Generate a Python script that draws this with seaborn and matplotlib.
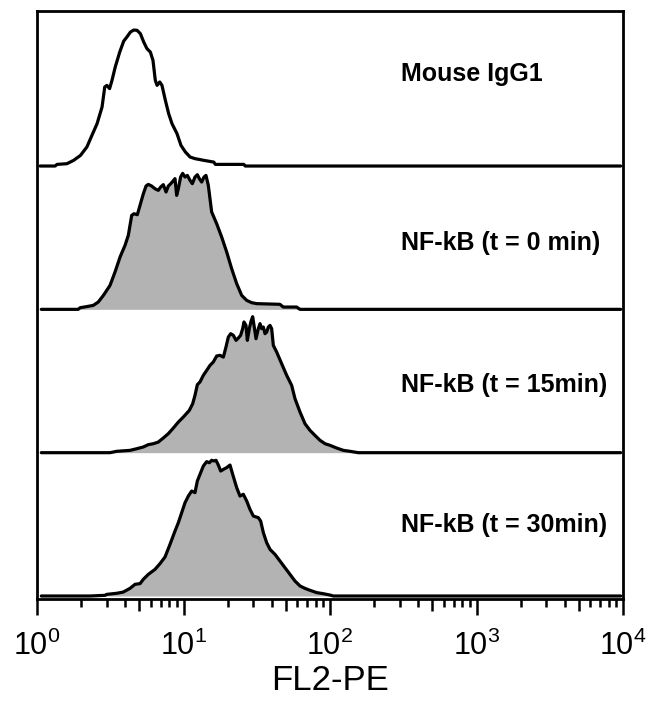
import numpy as np
import matplotlib
matplotlib.use("Agg")
import matplotlib.pyplot as plt
import seaborn as sns
from matplotlib.ticker import LogLocator, NullFormatter, FixedLocator, NullLocator

# ---------------- data ----------------
labels = ["Mouse IgG1", "NF-kB (t = 0 min)", "NF-kB (t = 15min)", "NF-kB (t = 30min)"]
filled = [False, True, True, True]
xlabel = "FL2-PE"
tick_values = [1, 10, 100, 1000, 10000]
mid_tick_values = [5, 50, 500, 5000]

# Mouse IgG1 (counts in % of peak)
x1 = [1.05, 1.33, 1.37, 1.60, 1.78, 1.98, 2.19, 2.37, 2.57, 2.78,
      2.90, 3.00, 3.13, 3.25, 3.42, 3.67, 3.91, 4.11, 4.34, 4.57,
      4.82, 5.08, 5.35, 5.63, 5.94, 6.19, 6.42, 6.60, 6.88, 7.13,
      7.52, 7.92, 8.35, 9.03, 9.61, 10.3, 11.1, 12.0, 13.0, 13.7,
      16.1, 16.5, 25.8, 26.4, 9640]
y1 = [0, 0, 1.2, 1.7, 4.2, 7.8, 14.0, 22.5, 31.1, 43.4,
      58.1, 59.3, 56.9, 63.0, 72.8, 83.8, 91.9, 94.9, 98.5, 100.0,
      99.8, 97.3, 91.2, 86.3, 83.8, 77.7, 63.0, 59.3, 61.8, 59.3,
      48.3, 38.5, 31.1, 23.8, 15.2, 10.3, 6.6, 5.4, 4.7, 4.2,
      2.9, 1.2, 1.2, 0, 0]

# NF-kB t = 0 min
x2 = [1.07, 1.91, 1.97, 2.18, 2.42, 2.62, 2.84, 3.15, 3.41, 3.69,
      3.99, 4.20, 4.43, 4.59, 4.84, 5.05, 5.32, 5.55, 5.75, 6.06,
      6.39, 6.73, 6.99, 7.28, 7.60, 7.88, 8.18, 8.44, 8.75, 8.98,
      9.22, 9.56, 9.87, 10.24, 10.62, 11.08, 11.49, 11.98, 12.43, 12.83,
      13.30, 13.80, 14.24, 14.77, 15.57, 16.84, 18.22, 19.71, 21.32, 23.07,
      24.95, 26.99, 29.19, 31.58, 45.5, 48.0, 59.2, 62.4, 9640]
y2 = [0, 0, 1.2, 2.0, 2.9, 5.4, 10.3, 17.6, 27.5, 38.5,
      47.1, 54.4, 69.1, 70.3, 69.6, 76.5, 85.0, 90.7, 91.9, 90.7,
      88.7, 87.5, 90.0, 91.7, 86.3, 90.7, 92.4, 94.1, 96.1, 83.8,
      88.7, 97.3, 100.0, 97.3, 98.5, 94.9, 92.4, 97.3, 99.0, 96.1,
      93.6, 97.3, 98.5, 91.2, 71.6, 63.0, 53.2, 42.2, 29.9, 18.9,
      10.3, 6.6, 4.9, 4.2, 3.7, 1.7, 1.7, 0, 0]

# NF-kB t = 15 min
x3 = [1.07, 3.15, 3.50, 4.31, 4.79, 5.32, 5.75, 6.22, 6.73, 7.28,
      7.88, 8.52, 9.22, 9.97, 10.96, 11.55, 11.98, 12.43, 12.96, 13.66,
      14.39, 15.17, 15.98, 16.84, 17.75, 18.71, 19.50, 20.23, 20.99, 21.89,
      22.83, 23.67, 24.55, 25.34, 25.88, 26.71, 27.27, 28.14, 28.89, 29.66,
      30.29, 31.26, 32.42, 33.29, 34.17, 35.08, 36.01, 36.96, 37.94, 38.95,
      39.97, 41.04, 43.25, 46.79, 50.60, 54.74, 57.69, 62.41, 67.50, 73.03,
      78.98, 85.44, 92.44, 100.0, 111.1, 123.3, 136.9, 156.1, 9640]
y3 = [0, 0, 1.0, 1.7, 2.9, 4.2, 5.9, 6.6, 7.8, 10.8,
      14.0, 18.1, 22.5, 26.2, 31.1, 36.0, 42.2, 50.0, 52.0, 56.9,
      60.5, 64.2, 66.7, 71.1, 71.6, 70.3, 77.7, 85.0, 87.5, 86.3,
      82.6, 84.3, 86.3, 91.2, 96.1, 93.6, 82.6, 91.2, 96.6, 100.0,
      93.6, 83.8, 91.2, 94.9, 91.2, 92.4, 87.5, 88.7, 92.4, 93.6,
      91.2, 78.9, 74.0, 65.4, 56.9, 49.5, 39.7, 29.9, 21.3, 16.4,
      12.7, 9.1, 6.6, 5.4, 3.4, 1.7, 1.0, 0, 0]

# NF-kB t = 30 min
x4 = [1.07, 2.30, 2.91, 2.99, 3.50, 3.88, 4.31, 4.67, 5.05, 5.32,
      5.75, 6.39, 6.91, 7.48, 8.09, 8.75, 9.22, 9.72, 10.24, 10.79,
      11.37, 11.98, 12.43, 12.96, 13.66, 14.39, 15.01, 15.57, 16.15, 16.67,
      17.29, 17.94, 18.71, 19.71, 20.77, 21.66, 23.07, 24.30, 25.61, 26.99,
      28.44, 29.98, 32.42, 33.63, 35.08, 36.96, 38.95, 42.13, 45.58, 49.29,
      53.33, 57.69, 62.41, 67.50, 73.03, 81.10, 90.06, 100.0, 105.4, 9640]
y4 = [0, 0, 0.5, 1.2, 2.0, 2.9, 5.6, 8.6, 9.1, 12.3,
      15.9, 19.6, 23.8, 28.7, 38.0, 47.8, 53.9, 61.3, 68.6, 73.5,
      77.2, 76.0, 84.6, 89.5, 95.6, 98.8, 98.0, 99.8, 99.3, 99.8,
      96.3, 91.9, 93.1, 94.4, 96.3, 89.5, 79.7, 73.5, 74.8, 69.9,
      63.7, 58.8, 57.6, 55.1, 46.6, 39.2, 34.3, 30.6, 25.7, 20.8,
      15.9, 11.0, 7.4, 5.6, 4.2, 2.5, 1.7, 0.7, 0, 0]

xs = [x1, x2, x3, x4]
ys = [y1, y2, y3, y4]

# ---------------- style ----------------
sns.set_style("ticks")
plt.rcParams['font.family'] = ['Liberation Sans', 'DejaVu Sans']
plt.rcParams['mathtext.fontset'] = 'custom'
plt.rcParams['mathtext.rm'] = 'Liberation Sans'
plt.rcParams['mathtext.it'] = 'Liberation Sans:italic'
plt.rcParams['mathtext.bf'] = 'Liberation Sans:bold'
plt.rcParams['axes.edgecolor'] = 'black'
plt.rcParams['axes.labelcolor'] = 'black'
plt.rcParams['text.color'] = 'black'
plt.rcParams['xtick.color'] = 'black'
plt.rcParams['xtick.labelcolor'] = 'black'

# layout (vertical stacking in % units)
offsets = [318.4, 213.0, 107.6, 2.2]
label_dy = [67.6, 49.0, 49.8, 52.2]
label_x = 305

fig = plt.figure(figsize=(6.63, 7.01), dpi=100)
ax = fig.add_axes([37 / 663, 1 - 599 / 701, 586 / 663, 588 / 701])
ax.set_xscale('log')

for x, y, off, dy, lab, fl in zip(xs, ys, offsets, label_dy, labels, filled):
    x = np.asarray(x, dtype=float)
    yy = off + np.asarray(y, dtype=float)
    if fl:
        ax.fill_between(x, off, yy, color='#b3b3b3', lw=0, zorder=1)
    sns.lineplot(x=x, y=yy, ax=ax, color='black', lw=2.3,
                 estimator=None, sort=False, zorder=2)
    ax.text(label_x, off + dy, lab, fontsize=18, fontweight='bold',
            ha='left', va='center', color='black')

ax.set_xlim(1, 10000)
ax.set_ylim(0, 432.4)
ax.set_yticks([])
ax.set_ylabel('')
for sp in ax.spines.values():
    sp.set_visible(True)
    sp.set_linewidth(2.0)
    sp.set_color('black')

ax.xaxis.set_major_locator(FixedLocator(tick_values))
ax.xaxis.set_minor_locator(LogLocator(base=10, subs=(2, 3, 4, 6, 7, 8, 9)))
ax.xaxis.set_minor_formatter(NullFormatter())
ax.tick_params(axis='x', which='major', length=11.5, width=1.8,
               labelsize=22, pad=11, direction='out')
ax.tick_params(axis='x', which='minor', length=5.8, width=1.8, direction='out')

sec = ax.secondary_xaxis('bottom')
sec.set_xticks(mid_tick_values)
sec.xaxis.set_minor_locator(NullLocator())
sec.tick_params(axis='x', length=8.6, width=1.8, labelbottom=False,
                direction='out', color='black')
sec.spines['bottom'].set_visible(False)

ax.set_xlabel(xlabel, fontsize=25, labelpad=2, color='black')

fig.savefig('out.png', dpi=100)
